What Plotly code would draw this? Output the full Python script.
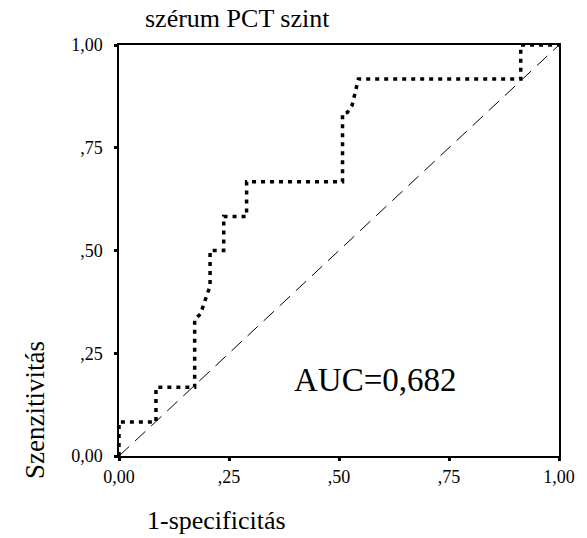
import plotly.graph_objects as go

# ROC curve points (1-specificity, sensitivity)
fpr = [0.0, 0.0, 0.084, 0.084, 0.172, 0.172, 0.185, 0.198, 0.207, 0.207, 0.238, 0.238,
       0.29, 0.29, 0.508, 0.508, 0.519, 0.53, 0.536, 0.544, 0.913, 0.913, 1.0]
tpr = [0.0, 0.083, 0.083, 0.167, 0.167, 0.333, 0.345, 0.384, 0.414, 0.5, 0.5, 0.583,
       0.583, 0.667, 0.667, 0.833, 0.836, 0.854, 0.882, 0.917, 0.917, 1.0, 1.0]
ref_x = [0.0, 1.0]
ref_y = [0.0, 1.0]
tick_vals = [0.0, 0.25, 0.5, 0.75, 1.0]
tick_text = ["0,00", ",25", ",50", ",75", "1,00"]

SERIF = "Liberation Serif, Times New Roman, serif"

fig = go.Figure()
fig.add_trace(go.Scatter(x=ref_x, y=ref_y, mode="lines",
                         line=dict(color="black", width=1, dash="14px,8px"),
                         hoverinfo="skip", showlegend=False))
fig.add_trace(go.Scatter(x=fpr, y=tpr, mode="lines",
                         line=dict(color="black", width=3.5, dash="4px,5px"),
                         showlegend=False))

axis_common = dict(range=[0, 1], tickvals=tick_vals, ticktext=tick_text,
                   showgrid=False, zeroline=False, showline=True, mirror=True,
                   linecolor="black", linewidth=1.5, ticks="outside", ticklen=3,
                   tickwidth=3, tickcolor="black",
                   tickfont=dict(family=SERIF, size=18, color="black"))
fig.update_xaxes(**axis_common, ticklabelstandoff=1)
fig.update_yaxes(**axis_common, ticklabelstandoff=8)

fig.add_annotation(text="szérum PCT szint", xref="paper", yref="paper",
                   x=0.0535, y=1.0, yshift=27, xanchor="left", yanchor="middle",
                   showarrow=False, font=dict(family=SERIF, size=26, color="black"))
fig.add_annotation(text="Szenzitivitás", xref="paper", yref="paper",
                   x=0, xshift=-84, y=0.112, textangle=-90, xanchor="center", yanchor="middle",
                   showarrow=False, font=dict(family=SERIF, size=27, color="black"))
fig.add_annotation(text="1-specificitás", xref="paper", yref="paper",
                   x=0.058, y=0, yshift=-64, xanchor="left", yanchor="middle",
                   showarrow=False, font=dict(family=SERIF, size=26, color="black"))
fig.add_annotation(text="AUC=0,682", x=0.583, y=0.185, xanchor="center", yanchor="middle",
                   showarrow=False, font=dict(family=SERIF, size=33, color="black"))

fig.update_layout(width=587, height=538, margin=dict(l=119, r=19, t=45, b=82),
                  plot_bgcolor="white", paper_bgcolor="white")

fig.write_html("out.html", config={"displayModeBar": False},
               post_script="document.body.style.margin='0';document.body.style.overflow='hidden';")
